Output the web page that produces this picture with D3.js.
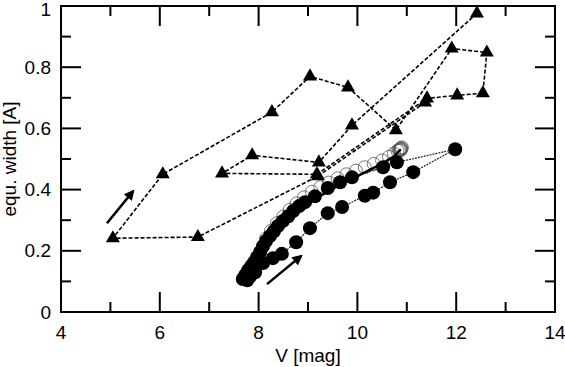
<!DOCTYPE html>
<html>
<head>
<meta charset="utf-8">
<script src="https://cdn.jsdelivr.net/npm/d3@7"></script>
<style>
    html, body { margin: 0; padding: 0; background: #fff; }
    svg { display: block; font-family: "Liberation Sans", Arial, Helvetica, sans-serif; }
    .tick-label { font-size: 19px; fill: #000; }
    .axis-title { font-size: 19px; fill: #000; }
</style>
</head>
<body>
<div id="chart"></div>
<script>
// Triangles: V magnitude and equivalent width, in the order they are joined
const triV  = [11.37, 9.20, 6.77, 5.05, 6.06, 8.27, 9.04, 9.81, 10.78, 11.91, 12.62, 12.54, 12.02, 11.41, 9.18, 7.26, 7.87, 9.22, 9.89, 12.42];
const triEW = [0.685, 0.444, 0.245, 0.241, 0.450, 0.653, 0.770, 0.734, 0.594, 0.861, 0.848, 0.715, 0.708, 0.698, 0.450, 0.453, 0.512, 0.489, 0.610, 0.976];

// Filled circles: up the upper branch, over to V=12, back down the lower branch
const dotV  = [7.68, 7.73, 7.79, 7.85, 7.91, 7.97, 8.03, 8.09, 8.15, 8.23, 8.31, 8.39, 8.49, 8.60, 8.70, 8.82, 8.94, 9.14,
               9.40, 9.65, 9.89, 10.52, 10.80, 11.98,
               11.13, 10.66, 10.32, 10.15, 9.69, 9.40, 9.04, 8.76, 8.47, 8.29, 8.09, 7.93, 7.83, 7.77];
const dotEW = [0.108, 0.121, 0.137, 0.150, 0.163, 0.179, 0.196, 0.215, 0.232, 0.248, 0.264, 0.281, 0.297, 0.313, 0.330, 0.346, 0.359, 0.378,
               0.405, 0.424, 0.440, 0.473, 0.489, 0.532,
               0.457, 0.424, 0.390, 0.380, 0.343, 0.323, 0.274, 0.228, 0.190, 0.176, 0.160, 0.130, 0.117, 0.104];

// Open circles
const ringV  = [8.15, 8.25, 8.37, 8.50, 8.63, 8.77, 8.92, 9.08, 9.25, 9.42, 9.60, 9.78, 9.97, 10.15, 10.33, 10.50, 10.64, 10.74, 10.81,
                10.86, 10.88, 10.90, 10.89, 10.87, 10.84, 10.88];
const ringEW = [0.240, 0.265, 0.290, 0.312, 0.334, 0.355, 0.375, 0.393, 0.408, 0.423, 0.437, 0.450, 0.462, 0.473, 0.484, 0.495, 0.507, 0.518, 0.527,
                0.532, 0.536, 0.538, 0.533, 0.528, 0.529, 0.531];

// Solid line through the open-circle run
const fitV  = [8.05, 8.35, 8.70, 9.10, 9.60, 10.10, 10.50, 10.75, 10.88];
const fitEW = [0.190, 0.255, 0.315, 0.365, 0.412, 0.452, 0.485, 0.510, 0.532];

// Direction arrows [V0, EW0, V1, EW1]
const arrows = [[4.93, 0.29, 5.46, 0.395], [8.17, 0.091, 8.86, 0.183]];

const xTicks = [4, 6, 8, 10, 12, 14];
const yTicks = [0, 0.2, 0.4, 0.6, 0.8, 1];
const xMinor = [5, 7, 9, 11, 13];
const yMinor = [0.1, 0.3, 0.5, 0.7, 0.9];

const W = 565, H = 367;
const margin = { top: 6, right: 10, bottom: 55, left: 61 };
const pw = W - margin.left - margin.right;
const ph = H - margin.top - margin.bottom;

const x = d3.scaleLinear().domain([4, 14]).range([0, pw]);
const y = d3.scaleLinear().domain([0, 1]).range([ph, 0]);

const svg = d3.select('#chart').append('svg')
    .attr('width', W).attr('height', H);

svg.append('defs').append('marker')
    .attr('id', 'head')
    .attr('viewBox', '0 0 10 10')
    .attr('refX', 8).attr('refY', 5)
    .attr('markerWidth', 4.4).attr('markerHeight', 4.2)
    .attr('markerUnits', 'strokeWidth')
    .attr('orient', 'auto')
    .append('path').attr('d', 'M0,0 L10,5 L0,10 Z').attr('fill', '#000');

const g = svg.append('g').attr('transform', `translate(${margin.left},${margin.top})`);

const zip = (a, b) => a.map((v, i) => [v, b[i]]);
const line = d3.line().x(d => x(d[0])).y(d => y(d[1]));

// open circles
g.append('g').selectAll('circle')
    .data(zip(ringV, ringEW))
    .join('circle')
    .attr('cx', d => x(d[0])).attr('cy', d => y(d[1]))
    .attr('r', 6.5)
    .attr('fill', 'none')
    .attr('stroke', '#555')
    .attr('stroke-width', 0.8);

// filled circles
const dots = zip(dotV, dotEW);
g.append('path')
    .datum(dots)
    .attr('d', line)
    .attr('fill', 'none')
    .attr('stroke', '#222')
    .attr('stroke-width', 1.2)
    .attr('stroke-dasharray', '2,1');

g.append('g').selectAll('circle')
    .data(dots)
    .join('circle')
    .attr('cx', d => x(d[0])).attr('cy', d => y(d[1]))
    .attr('r', 7)
    .attr('fill', '#000');

g.append('path')
    .datum(zip(fitV, fitEW))
    .attr('d', line)
    .attr('fill', 'none')
    .attr('stroke', '#000')
    .attr('stroke-width', 2.4);

// triangles, dashed
const tris = zip(triV, triEW);
g.append('path')
    .datum(tris)
    .attr('d', line)
    .attr('fill', 'none')
    .attr('stroke', '#000')
    .attr('stroke-width', 1.6)
    .attr('stroke-dasharray', '4,2');

g.append('g').selectAll('path')
    .data(tris)
    .join('path')
    .attr('transform', d => `translate(${x(d[0])},${y(d[1])})`)
    .attr('d', d3.symbol(d3.symbolTriangle, 85))
    .attr('fill', '#000');

// arrows
g.append('g').selectAll('line')
    .data(arrows)
    .join('line')
    .attr('x1', d => x(d[0])).attr('y1', d => y(d[1]))
    .attr('x2', d => x(d[2])).attr('y2', d => y(d[3]))
    .attr('stroke', '#000')
    .attr('stroke-width', 2.5)
    .attr('marker-end', 'url(#head)');

// frame and inward ticks on all four sides
g.append('rect')
    .attr('width', pw).attr('height', ph)
    .attr('fill', 'none').attr('stroke', '#000').attr('stroke-width', 2);

const tickG = g.append('g').attr('stroke', '#000').attr('stroke-width', 2);
function xTickMarks(vals, len) {
    vals.forEach(v => {
        tickG.append('line').attr('x1', x(v)).attr('x2', x(v)).attr('y1', ph).attr('y2', ph - len);
        tickG.append('line').attr('x1', x(v)).attr('x2', x(v)).attr('y1', 0).attr('y2', len);
    });
}
function yTickMarks(vals, len) {
    vals.forEach(v => {
        tickG.append('line').attr('y1', y(v)).attr('y2', y(v)).attr('x1', 0).attr('x2', len);
        tickG.append('line').attr('y1', y(v)).attr('y2', y(v)).attr('x1', pw).attr('x2', pw - len);
    });
}
xTickMarks(xTicks.slice(1, -1), 20);
xTickMarks(xMinor, 10);
yTickMarks(yTicks.slice(1, -1), 20);
yTickMarks(yMinor, 10);

// tick labels
g.append('g').selectAll('text')
    .data(xTicks)
    .join('text')
    .attr('class', 'tick-label')
    .attr('x', d => x(d))
    .attr('y', ph + 27)
    .attr('text-anchor', 'middle')
    .text(d => d);

g.append('g').selectAll('text')
    .data(yTicks)
    .join('text')
    .attr('class', 'tick-label')
    .attr('x', -10)
    .attr('y', d => Math.max(y(d), 3))
    .attr('dy', '0.35em')
    .attr('text-anchor', 'end')
    .text(d => d);

// axis titles
svg.append('text')
    .attr('class', 'axis-title')
    .attr('x', margin.left + pw / 2)
    .attr('y', 362)
    .attr('text-anchor', 'middle')
    .text('V [mag]');

svg.append('text')
    .attr('class', 'axis-title')
    .attr('transform', `translate(16,${margin.top + ph / 2}) rotate(-90)`)
    .attr('text-anchor', 'middle')
    .text('equ. width [A]');
</script>
</body>
</html>
